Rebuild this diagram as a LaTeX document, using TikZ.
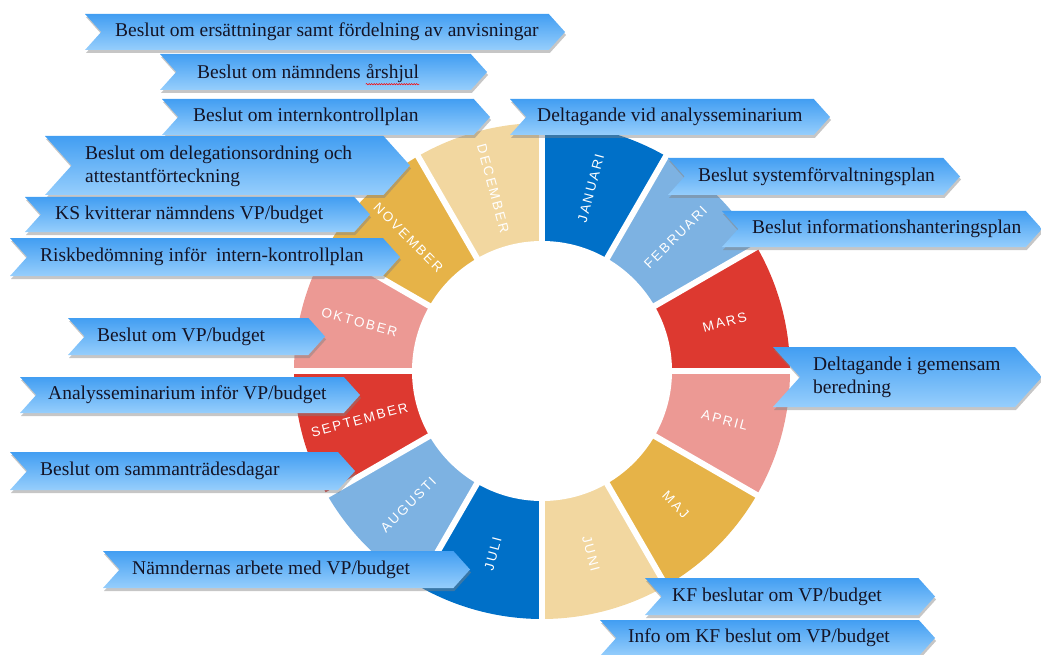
\documentclass[tikz,border=0pt]{standalone}
\usepackage{fontspec}
\setmainfont{Liberation Serif}
\newfontfamily\manadfont[LetterSpace=15]{Liberation Sans}
\usepackage{tikz}
\usetikzlibrary{calc,shadows,decorations.pathmorphing}

\definecolor{morkbla}{RGB}{0,112,200}
\definecolor{ljusbla}{RGB}{125,178,226}
\definecolor{rod}{RGB}{221,57,48}
\definecolor{rosa}{RGB}{236,153,148}
\definecolor{guld}{RGB}{230,179,72}
\definecolor{sand}{RGB}{242,215,160}
\definecolor{piltopp}{RGB}{66,158,242}
\definecolor{pilbotten}{RGB}{150,206,252}
\definecolor{textfarg}{RGB}{20,20,38}

% pil(vänster:höger:topp:botten)
\def\pil(#1:#2:#3:#4){%
	\pgfmathsetmacro\djup{0.45*(#4-#3)}%
	\pgfmathsetmacro\ymitt{(#3+#4)/2}%
	\path[pilform] (#1,#3) -- ({#2-\djup},#3) -- (#2,\ymitt) -- ({#2-\djup},#4) -- (#1,#4) -- ({#1+\djup},\ymitt) -- cycle;}

\tikzset{
	pilform/.style={top color=piltopp, bottom color=pilbotten, drop shadow={shadow xshift=1pt, shadow yshift=-3pt, opacity=.45}},
	piltext/.style={font=\fontsize{19.5}{23}\selectfont, text=textfarg, inner sep=0pt, anchor=west, align=left},
	manad/.style={font=\manadfont\fontsize{13.5}{15}\selectfont, text=white, inner sep=0pt},
}

\begin{document}
\begin{tikzpicture}[x=1pt, y=-1pt]
			%%%%% START %%%%%
			\useasboundingbox (0,0) rectangle (1041,655);
			\clip (0,0) rectangle (1041,655);
			
			\coordinate (mitt) at (542,371);
			
			% hjulet
			\foreach \namn/\farg/\vinkel in {JANUARI/morkbla/75, FEBRUARI/ljusbla/45, MARS/rod/15, APRIL/rosa/-15, MAJ/guld/-45, JUNI/sand/-75, JULI/morkbla/-105, AUGUSTI/ljusbla/-135, SEPTEMBER/rod/-165, OKTOBER/rosa/165, NOVEMBER/guld/135, DECEMBER/sand/105}{
				\pgfmathsetmacro\fran{\vinkel-15}
				\pgfmathsetmacro\till{\vinkel+15}
				\fill[\farg] (mitt) -- ++(\fran:248pt) arc (\fran:\till:248pt) -- cycle;
			}
			\foreach \v in {0,30,...,330} \draw[white, line width=6pt] (mitt) -- ++(\v:252pt);
			\fill[white] (mitt) circle (130pt);
			
			\foreach \namn/\vinkel/\rot in {JANUARI/75/75, FEBRUARI/45/45, MARS/15/15, APRIL/-15/-15, MAJ/-45/-45, JUNI/-75/-75, JULI/-105/75, AUGUSTI/-135/45, SEPTEMBER/-165/15, OKTOBER/165/-15, NOVEMBER/135/-45, DECEMBER/105/-75}
				\node[manad, rotate=\rot] (m-\namn) at ([shift={(\vinkel:189pt)}]mitt) {\namn};
			
			% pilar
			\pil(85:565:14:50);
			\node[piltext] (t1) at (115,32) {Beslut om ersättningar samt fördelning av anvisningar};
			
			\pil(160:487:54:90);
			\node[piltext] (t2) at (197,72) {Beslut om nämndens};
			\node[piltext, anchor=base west] (t2b) at ([xshift=4.9pt]t2.base east) {årshjul};
			\draw[red, line width=.5pt, decorate, decoration={snake, amplitude=.7pt, segment length=2.5pt}] ([yshift=-5.5pt]t2b.base west) -- ([yshift=-5.5pt]t2b.base east);
			
			\pil(162:490:99:135);
			\node[piltext] (t3) at (193,117) {Beslut om internkontrollplan};
			
			\pil(510:830:99:135);
			\node[piltext] (t4) at (537,117) {Deltagande vid analysseminarium};
			
			\pil(45:410:136:195);
			\node[piltext] (t5) at (85,166) {Beslut om delegationsordning och\\attestantförteckning};
			
			\pil(25:370:197:232);
			\node[piltext] (t6) at (55,215) {KS kvitterar nämndens VP/budget};
			
			\pil(10:400:238:276);
			\node[piltext] (t7) at (40,257) {Riskbedömning inför~ intern-kontrollplan};
			
			\pil(668:960:158:195);
			\node[piltext] (t8) at (698,177) {Beslut systemförvaltningsplan};
			
			\pil(722:1042:211:247);
			\node[piltext] (t9) at (752,229) {Beslut informationshanteringsplan};
			
			\pil(68:325:318:355);
			\node[piltext] (t10) at (97,337) {Beslut om VP/budget};
			
			\pil(773:1042:347:407);
			\node[piltext] (t11) at (813,377) {Deltagande i gemensam\\beredning};
			
			\pil(20:360:377:413);
			\node[piltext] (t12) at (48,395) {Analysseminarium inför VP/budget};
			
			\pil(10:355:452:490);
			\node[piltext] (t13) at (40,471) {Beslut om sammanträdesdagar};
			
			\pil(103:470:551:588);
			\node[piltext] (t14) at (132,570) {Nämndernas arbete med VP/budget};
			
			\pil(645:935:578:615);
			\node[piltext] (t15) at (672,597) {KF beslutar om VP/budget};
			
			\pil(600:935:620:656);
			\node[piltext] (t16) at (628,638) {Info om KF beslut om VP/budget};
			
			%%%%% END %%%%%
\end{tikzpicture}
\end{document}
